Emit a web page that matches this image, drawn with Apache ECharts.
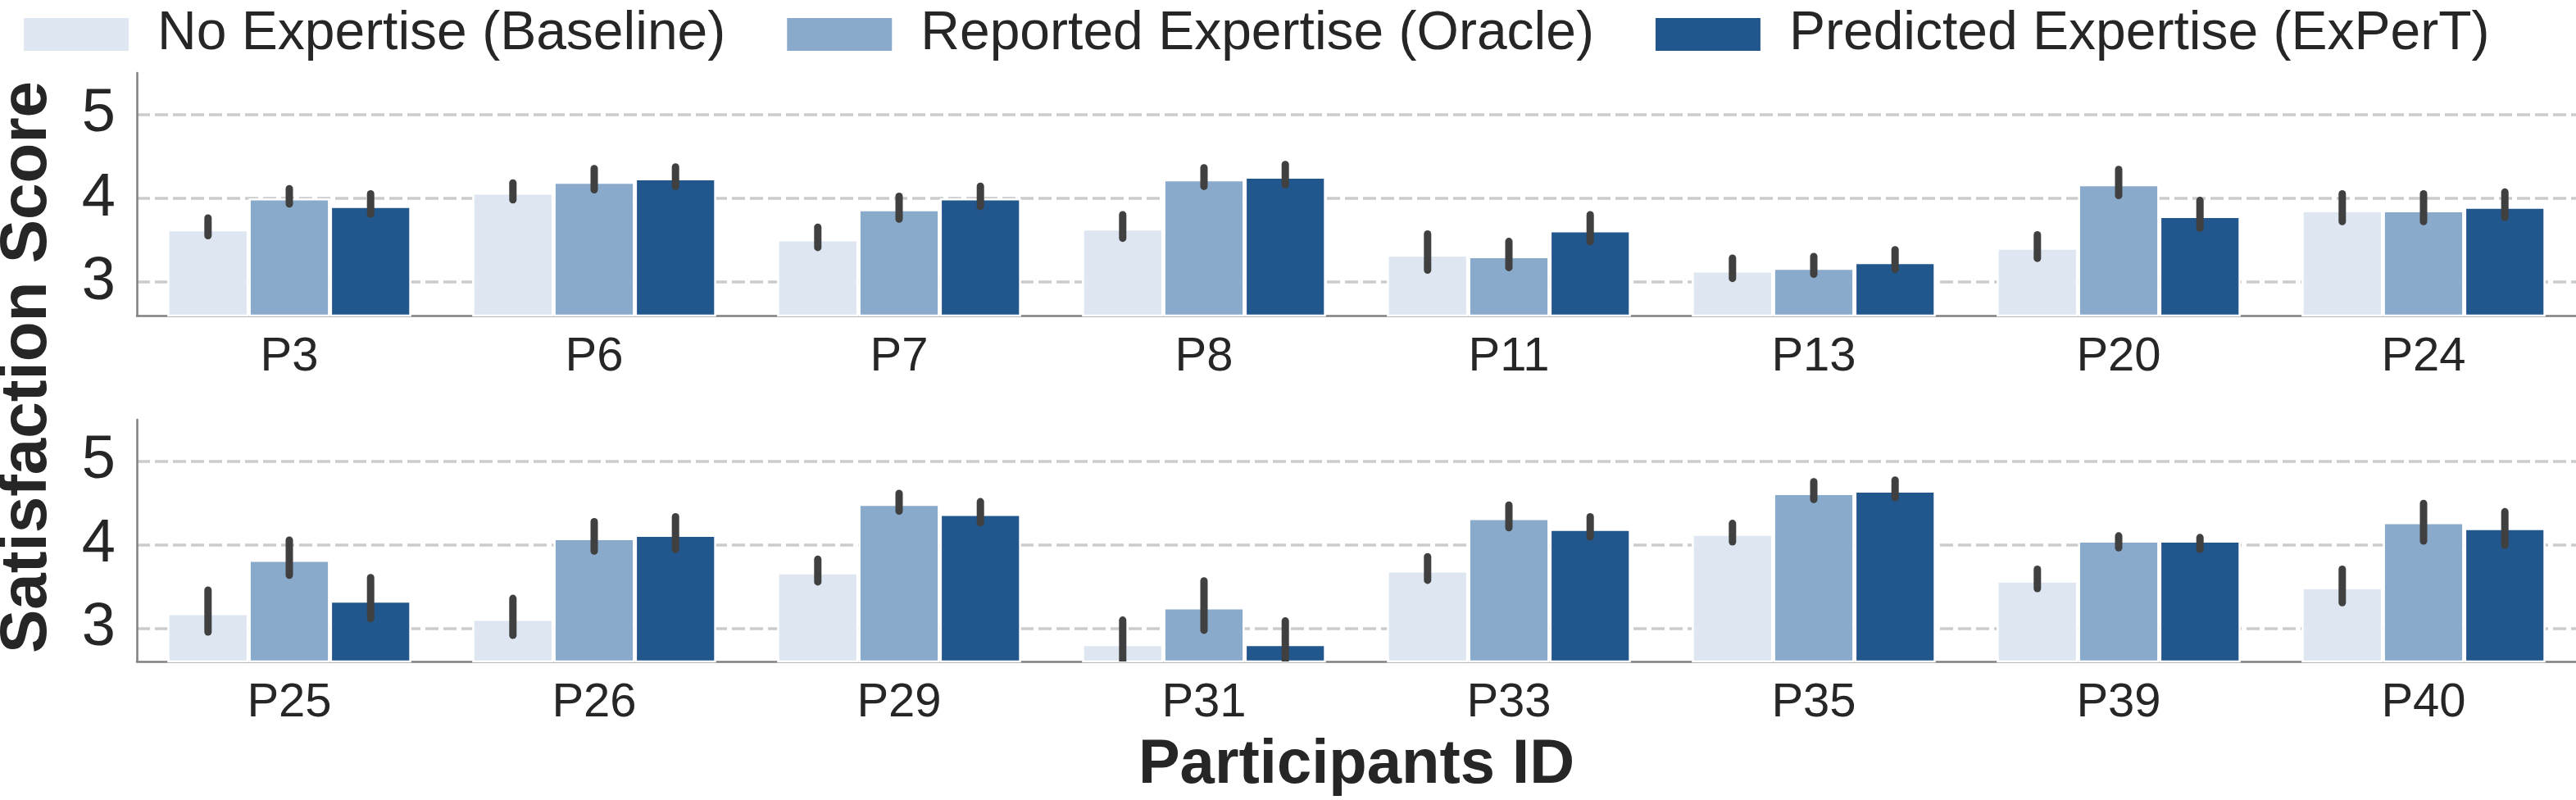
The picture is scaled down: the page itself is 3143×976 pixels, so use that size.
<!DOCTYPE html>
<html>
<head>
<meta charset="utf-8">
<script src="https://cdn.jsdelivr.net/npm/echarts@6/dist/echarts.min.js"></script>
<style>
  html, body { margin: 0; padding: 0; background: #fff; }
  #chart { width: 3143px; height: 976px; }
</style>
</head>
<body>
<div id="chart"></div>
<script>
// participants shown in each panel
const topIds = ['P3', 'P6', 'P7', 'P8', 'P11', 'P13', 'P20', 'P24'];
const botIds = ['P25', 'P26', 'P29', 'P31', 'P33', 'P35', 'P39', 'P40'];

const seriesNames = ['No Expertise (Baseline)', 'Reported Expertise (Oracle)', 'Predicted Expertise (ExPerT)'];

// mean satisfaction, top panel
const topBaseline = [3.63, 4.07, 3.51, 3.64, 3.33, 3.14, 3.41, 3.86];
const topOracle = [4.00, 4.20, 3.87, 4.23, 3.31, 3.17, 4.17, 3.86];
const topExpert = [3.91, 4.24, 4.00, 4.26, 3.62, 3.24, 3.79, 3.90];
// error bar extents, top panel
const topBaselineLo = [3.51, 3.94, 3.37, 3.48, 3.10, 3.00, 3.24, 3.68];
const topBaselineHi = [3.81, 4.23, 3.70, 3.85, 3.62, 3.33, 3.61, 4.10];
const topOracleLo = [3.89, 4.06, 3.71, 4.10, 3.13, 3.05, 3.99, 3.68];
const topOracleHi = [4.16, 4.40, 4.07, 4.41, 3.53, 3.35, 4.39, 4.10];
const topExpertLo = [3.77, 4.10, 3.86, 4.12, 3.44, 3.11, 3.60, 3.73];
const topExpertHi = [4.10, 4.42, 4.19, 4.45, 3.85, 3.43, 4.02, 4.12];

// mean satisfaction, bottom panel
const botBaseline = [3.18, 3.11, 3.67, 2.81, 3.69, 4.13, 3.57, 3.49];
const botOracle = [3.82, 4.08, 4.49, 3.25, 4.32, 4.62, 4.05, 4.27];
const botExpert = [3.33, 4.12, 4.37, 2.81, 4.19, 4.65, 4.05, 4.20];
// error bar extents, bottom panel
const botBaselineLo = [2.91, 2.87, 3.51, 2.45, 3.53, 3.99, 3.43, 3.26];
const botBaselineHi = [3.50, 3.40, 3.87, 3.14, 3.90, 4.30, 3.75, 3.75];
const botOracleLo = [3.59, 3.88, 4.36, 2.93, 4.16, 4.50, 3.92, 4.00];
const botOracleHi = [4.10, 4.32, 4.66, 3.61, 4.52, 4.80, 4.15, 4.54];
const botExpertLo = [3.07, 3.90, 4.22, 2.45, 4.05, 4.52, 3.90, 3.95];
const botExpertHi = [3.65, 4.38, 4.56, 3.13, 4.38, 4.82, 4.13, 4.44];

const yTicks = [3, 4, 5];

const colors = ['#dee7f1', '#8aaacb', '#22578e'];
const font = '"Liberation Sans", Arial, Helvetica, sans-serif';
const barFrac = 0.8;
const errWidth = 9;

const chart = echarts.init(document.getElementById('chart'), null, { renderer: 'canvas' });

function xAxisFor(gridIndex, ids) {
  return {
    type: 'category',
    gridIndex: gridIndex,
    data: ids,
    axisTick: { show: false },
    axisLine: { show: true, lineStyle: { color: '#808080', width: 2.5 } },
    axisLabel: { color: '#262626', fontSize: 58, fontFamily: font, margin: 22 },
    splitLine: { show: false }
  };
}

function yAxisFor(gridIndex) {
  return {
    type: 'value',
    gridIndex: gridIndex,
    min: 2.6,
    max: 5.5,
    minInterval: 1,
    maxInterval: 1,
    axisTick: { show: false },
    axisLine: { show: true, lineStyle: { color: '#808080', width: 2.5 } },
    axisLabel: {
      color: '#262626', fontSize: 74, fontFamily: font, margin: 26,
      showMinLabel: false, showMaxLabel: false,
      formatter: function (v) { return yTicks.indexOf(v) >= 0 ? String(v) : ''; }
    },
    splitLine: {
      show: true, showMinLine: false, showMaxLine: false,
      lineStyle: { color: '#cccccc', width: 3.5, type: [16, 6] }
    }
  };
}

function barSeries(name, idx, gridIndex, values) {
  return {
    name: name,
    type: 'bar',
    xAxisIndex: gridIndex,
    yAxisIndex: gridIndex,
    data: values,
    barGap: '0%',
    barCategoryGap: '20%',
    itemStyle: { color: colors[idx], borderColor: '#ffffff', borderWidth: 2.5 },
    z: 2
  };
}

function errSeries(idx, gridIndex, lo, hi) {
  const data = lo.map((l, i) => [i, l, hi[i]]);
  return {
    type: 'custom',
    xAxisIndex: gridIndex,
    yAxisIndex: gridIndex,
    clip: true,
    silent: true,
    z: 5,
    data: data,
    encode: { x: 0, y: [1, 2] },
    renderItem: function (params, api) {
      const i = api.value(0);
      const a = api.coord([i, api.value(1)]);
      const b = api.coord([i, api.value(2)]);
      const band = api.size([1, 0])[0];
      const off = (idx - 1) * band * barFrac / 3;
      const r = errWidth / 2;
      return {
        type: 'line',
        shape: { x1: a[0] + off, y1: a[1] - r, x2: b[0] + off, y2: b[1] + r },
        style: { stroke: '#404040', lineWidth: errWidth, lineCap: 'round' }
      };
    }
  };
}

const option = {
  animation: false,
  backgroundColor: '#ffffff',
  legend: {
    data: seriesNames,
    left: 22,
    top: 4,
    icon: 'rect',
    itemWidth: 130,
    itemHeight: 42,
    itemGap: 73,
    textStyle: { fontSize: 66, color: '#262626', fontFamily: font, padding: [0, 0, 0, 29] }
  },
  grid: [
    { left: 167, right: 0, top: 89, height: 296 },
    { left: 167, right: 0, top: 512, height: 295 }
  ],
  xAxis: [xAxisFor(0, topIds), xAxisFor(1, botIds)],
  yAxis: [yAxisFor(0), yAxisFor(1)],
  graphic: [
    {
      type: 'text',
      x: 34, y: 448,
      rotation: Math.PI / 2,
      style: {
        text: 'Satisfaction Score',
        fontSize: 80, fontWeight: 'bold', fontFamily: font, fill: '#262626',
        align: 'center', verticalAlign: 'middle'
      }
    },
    {
      type: 'text',
      x: 1655, y: 934,
      style: {
        text: 'Participants ID',
        fontSize: 76, fontWeight: 'bold', fontFamily: font, fill: '#262626',
        align: 'center', verticalAlign: 'middle'
      }
    }
  ],
  series: [
    barSeries(seriesNames[0], 0, 0, topBaseline),
    barSeries(seriesNames[1], 1, 0, topOracle),
    barSeries(seriesNames[2], 2, 0, topExpert),
    barSeries(seriesNames[0], 0, 1, botBaseline),
    barSeries(seriesNames[1], 1, 1, botOracle),
    barSeries(seriesNames[2], 2, 1, botExpert),
    errSeries(0, 0, topBaselineLo, topBaselineHi),
    errSeries(1, 0, topOracleLo, topOracleHi),
    errSeries(2, 0, topExpertLo, topExpertHi),
    errSeries(0, 1, botBaselineLo, botBaselineHi),
    errSeries(1, 1, botOracleLo, botOracleHi),
    errSeries(2, 1, botExpertLo, botExpertHi)
  ]
};

chart.setOption(option);
</script>
</body>
</html>
